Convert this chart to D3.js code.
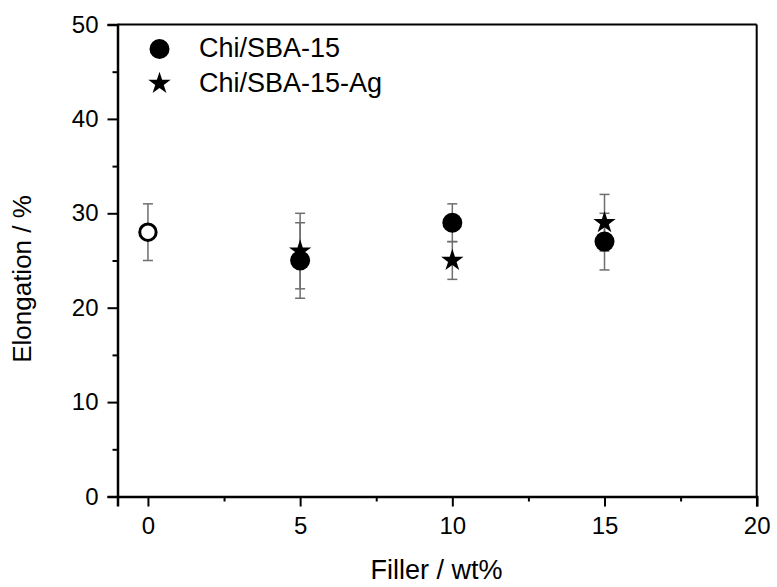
<!DOCTYPE html>
<html><head><meta charset="utf-8">
<script src="https://cdn.jsdelivr.net/npm/d3@7"></script>
<style>body{margin:0;background:#fff}svg{display:block}text{font-family:"Liberation Sans",Arial,sans-serif;fill:#000}</style>
</head><body><svg id="c" width="777" height="587"></svg>
<script>
// Data
const controlX = [0];
const controlY = [28];
const controlErr = [3];
const fillerX = [5, 10, 15];
const sbaY = [25, 29, 27];
const sbaErr = [4, 2, 3];
const sbaAgY = [26, 25, 29];
const sbaAgErr = [4, 2, 3];
const xMajorTicks = [0, 5, 10, 15, 20];
const xMinorTicks = [2.5, 7.5, 12.5, 17.5];
const yMajorTicks = [0, 10, 20, 30, 40, 50];
const yMinorTicks = [5, 15, 25, 35, 45];
const seriesNames = ["Chi/SBA-15", "Chi/SBA-15-Ag"];

const svg = d3.select("#c");
const L = 117.5, R = 756.7, T = 24.5, B = 496.5;
const x = d3.scaleLinear().domain([-1, 20]).range([L, R]);
const y = d3.scaleLinear().domain([0, 50]).range([B, T]);

// frame (top/right)
svg.append("line").attr("x1", L).attr("x2", R).attr("y1", T).attr("y2", T).attr("stroke", "#000").attr("stroke-width", 2);
svg.append("line").attr("x1", R).attr("x2", R).attr("y1", T).attr("y2", B).attr("stroke", "#000").attr("stroke-width", 2);

// axes
const xAxis = svg.append("g").attr("transform", `translate(0,${B})`)
  .call(d3.axisBottom(x).tickValues(xMajorTicks).tickSize(10).tickPadding(10).tickFormat(d3.format("d")));
const xMinor = svg.append("g").attr("transform", `translate(0,${B})`)
  .call(d3.axisBottom(x).tickValues(xMinorTicks).tickSize(5).tickFormat(""));
const yAxis = svg.append("g").attr("transform", `translate(${L},0)`)
  .call(d3.axisLeft(y).tickValues(yMajorTicks).tickSize(10).tickPadding(9).tickFormat(d3.format("d")));
const yMinor = svg.append("g").attr("transform", `translate(${L},0)`)
  .call(d3.axisLeft(y).tickValues(yMinorTicks).tickSize(5).tickFormat(""));
[xAxis, xMinor, yAxis, yMinor].forEach(g => {
  g.selectAll(".domain").attr("stroke", "#000").attr("stroke-width", 2.5);
  g.selectAll(".tick line").attr("stroke", "#000").attr("stroke-width", 2);
  g.selectAll("text").attr("font-size", 24).attr("font-family", "Liberation Sans, Arial, sans-serif").attr("fill", "#000");
});
xMinor.select(".domain").remove();
yMinor.select(".domain").remove();

// error bars
function errBars(xs, ys, es) {
  const g = svg.append("g").attr("stroke", "#6e6e6e").attr("stroke-width", 1.5).attr("fill", "none");
  xs.forEach((xv, i) => {
    const cx = x(xv), y1 = y(ys[i] + es[i]), y0 = y(ys[i] - es[i]);
    g.append("line").attr("x1", cx).attr("x2", cx).attr("y1", y1).attr("y2", y0);
    g.append("line").attr("x1", cx - 5).attr("x2", cx + 5).attr("y1", y1).attr("y2", y1);
    g.append("line").attr("x1", cx - 5).attr("x2", cx + 5).attr("y1", y0).attr("y2", y0);
  });
}
errBars(controlX, controlY, controlErr);
errBars(fillerX, sbaY, sbaErr);
errBars(fillerX, sbaAgY, sbaAgErr);

const star = d3.symbol().type(d3.symbolStar).size(155);

// stars
svg.append("g").selectAll("path").data(fillerX).join("path")
  .attr("d", star).attr("fill", "#000")
  .attr("transform", (d, i) => `translate(${x(d)},${y(sbaAgY[i])})`);
// circles
svg.append("g").selectAll("circle").data(fillerX).join("circle")
  .attr("cx", d => x(d)).attr("cy", (d, i) => y(sbaY[i])).attr("r", 10).attr("fill", "#000");
// control open circle
svg.append("g").selectAll("circle").data(controlX).join("circle")
  .attr("cx", d => x(d)).attr("cy", (d, i) => y(controlY[i])).attr("r", 8.2)
  .attr("fill", "#fff").attr("stroke", "#000").attr("stroke-width", 3);

// legend
const lg = svg.append("g");
lg.append("circle").attr("cx", 159.5).attr("cy", 49).attr("r", 10).attr("fill", "#000");
lg.append("path").attr("d", star).attr("transform", "translate(159.5,83.5)").attr("fill", "#000");
lg.append("text").attr("x", 199).attr("y", 57).attr("font-size", 27).text(seriesNames[0]);
lg.append("text").attr("x", 199).attr("y", 92).attr("font-size", 27).text(seriesNames[1]);

// axis titles
svg.append("text").attr("x", 436.5).attr("y", 579).attr("text-anchor", "middle").attr("font-size", 27).text("Filler / wt%");
svg.append("text").attr("transform", "translate(31,279) rotate(-90)").attr("text-anchor", "middle").attr("font-size", 26).text("Elongation / %");
</script></body></html>
